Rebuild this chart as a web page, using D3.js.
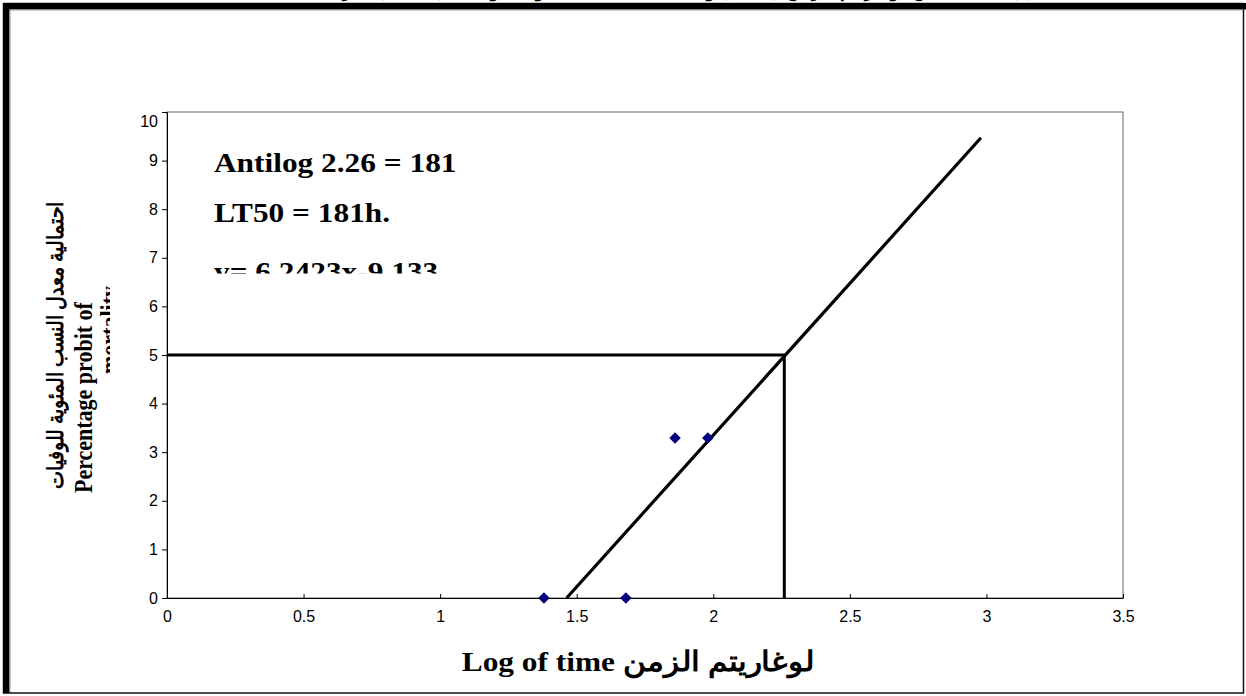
<!DOCTYPE html>
<html>
<head>
<meta charset="utf-8">
<script src="https://cdn.jsdelivr.net/npm/d3@7"></script>
<style>
  html, body { margin: 0; padding: 0; background: #fff; }
  svg { display: block; }
</style>
</head>
<body>
<svg id="chart" width="1246" height="696"></svg>
<script>
// Observed log(time) and probit values
const logTime = [1.38, 1.68, 1.86, 1.98];
const probit  = [0, 0, 3.29, 3.29];

// Fitted probit line y = 6.2423x - 9.133, drawn over this x range
const slope = 6.2423;
const intercept = -9.133;
const fitRange = [1.463, 2.98];

// LT50 read-off: log time at probit 5
const lt50Log = 2.26;
const lt50Probit = 5;

const xTicks = [0, 0.5, 1, 1.5, 2, 2.5, 3, 3.5];
const yTicks = [0, 1, 2, 3, 4, 5, 6, 7, 8, 9, 10];

const notes = ["Antilog 2.26 = 181", "LT50 = 181h.", "y= 6.2423x-9.133"];

const svg = d3.select("#chart");
const serif = "'Liberation Serif', 'Times New Roman', serif";
const sans = "'Liberation Sans', Arial, sans-serif";

// Heading, mostly hidden above the frame
svg.append("text")
  .attr("x", 695).attr("y", -4)
  .attr("text-anchor", "middle")
  .attr("font-family", serif).attr("font-weight", "bold").attr("font-size", 20)
  .attr("direction", "rtl")
  .text("شكل (3): العلاقة بين لوغاريتم الزمن (ساعة) واحتمالية النسب المئوية للوفيات (Probit) لليرقات");

// Outer frame with heavy top/left edges
svg.append("rect").attr("x", 3.5).attr("y", 3.5).attr("width", 1240).attr("height", 689.5)
  .attr("fill", "none").attr("stroke", "#111").attr("stroke-width", 1.5);
svg.append("rect").attr("x", 3).attr("y", 3).attr("width", 1243).attr("height", 6.5).attr("fill", "#000");
svg.append("rect").attr("x", 3).attr("y", 3).attr("width", 6.5).attr("height", 690).attr("fill", "#000");
svg.append("line").attr("x1", 10).attr("x2", 1243).attr("y1", 10).attr("y2", 10).attr("stroke", "#999").attr("stroke-width", 1);
svg.append("line").attr("x1", 10).attr("x2", 10).attr("y1", 10).attr("y2", 692).attr("stroke", "#999").attr("stroke-width", 1);

const x = d3.scaleLinear().domain([0, 3.5]).range([167, 1123]);
const y = d3.scaleLinear().domain([0, 10]).range([598, 112]);

// Plot area border
svg.append("rect")
  .attr("x", x(0)).attr("y", y(10))
  .attr("width", x(3.5) - x(0)).attr("height", y(0) - y(10))
  .attr("fill", "none").attr("stroke", "#666").attr("stroke-width", 1);

// Y axis
const yAxis = svg.append("g")
  .attr("transform", `translate(${x(0)},0)`)
  .call(d3.axisLeft(y).tickValues(yTicks).tickSize(5).tickPadding(4).tickFormat(d3.format("d")));
yAxis.select(".domain").attr("stroke", "#000");
yAxis.selectAll(".tick line").attr("stroke", "#000");
yAxis.selectAll(".tick text")
  .attr("font-family", sans).attr("font-size", 16).attr("fill", "#000")
  .filter(d => d === 10).attr("dy", "0.92em");

// X axis, ticks pointing inward
const xAxis = svg.append("g")
  .attr("transform", `translate(0,${y(0)})`)
  .call(d3.axisBottom(x).tickValues(xTicks).tickSizeInner(-4).tickSizeOuter(0).tickPadding(13).tickFormat(d3.format("")));
xAxis.select(".domain").attr("stroke", "#000");
xAxis.selectAll(".tick line").attr("stroke", "#000");
xAxis.selectAll(".tick text").attr("font-family", sans).attr("font-size", 16).attr("fill", "#000");

// LT50 drop lines
svg.append("path")
  .attr("d", d3.line()([[x(0), y(lt50Probit)], [x(lt50Log), y(lt50Probit)], [x(lt50Log), y(0)]]))
  .attr("fill", "none").attr("stroke", "#000").attr("stroke-width", 3);

// Fitted line
svg.append("path")
  .attr("d", d3.line().x(d => x(d)).y(d => y(slope * d + intercept))(fitRange))
  .attr("fill", "none").attr("stroke", "#000").attr("stroke-width", 3.2);

// Observed points
svg.append("g").selectAll("path")
  .data(logTime.map((v, i) => [v, probit[i]]))
  .join("path")
  .attr("transform", d => `translate(${x(d[0])},${y(d[1])}) rotate(45)`)
  .attr("d", d3.symbol().type(d3.symbolSquare).size(66))
  .attr("fill", "#000080");

// Annotation box (its last line is cut by the box edge)
svg.append("clipPath").attr("id", "noteClip")
  .append("rect").attr("x", 190).attr("y", 120).attr("width", 320).attr("height", 153.5);
const noteY = [172, 222, 281];
svg.append("g").attr("clip-path", "url(#noteClip)")
  .selectAll("text").data(notes).join("text")
  .attr("x", 214).attr("y", (d, i) => noteY[i])
  .attr("font-family", serif).attr("font-weight", "bold").attr("font-size", 28)
  .attr("fill", "#000")
  .style("transform-box", "fill-box").style("transform-origin", "left center").style("transform", "scaleX(1.12)")
  .text(d => d);

// Y axis title, rotated; third line cut by its box
svg.append("clipPath").attr("id", "yTitleClip")
  .append("rect").attr("x", 20).attr("y", 150).attr("width", 90).attr("height", 400);
const yTitle = svg.append("g").attr("clip-path", "url(#yTitleClip)");
yTitle.append("text")
  .attr("transform", "translate(63,345) scale(1.15,1) rotate(-90)")
  .attr("text-anchor", "middle")
  .attr("font-family", serif).attr("font-weight", "bold").attr("font-size", 19)
  .attr("direction", "rtl")
  .text("احتمالية معدل النسب المئوية للوفيات");
yTitle.append("text")
  .attr("transform", "translate(92,493) scale(1.15,1) rotate(-90)")
  .attr("text-anchor", "start")
  .attr("font-family", serif).attr("font-weight", "bold").attr("font-size", 22)
  .text("Percentage probit of");
yTitle.append("text")
  .attr("transform", "translate(118,330) scale(1.15,1) rotate(-90)")
  .attr("text-anchor", "middle")
  .attr("font-family", serif).attr("font-weight", "bold").attr("font-size", 22)
  .text("mortality");

// X axis title
svg.append("text")
  .attr("x", 638).attr("y", 671)
  .attr("text-anchor", "middle")
  .attr("font-family", serif).attr("font-weight", "bold").attr("font-size", 28)
  .attr("fill", "#000")
  .style("transform-box", "fill-box").style("transform-origin", "center").style("transform", "scaleX(1.12)")
  .text("Log of time لوغاريتم الزمن");
</script>
</body>
</html>
